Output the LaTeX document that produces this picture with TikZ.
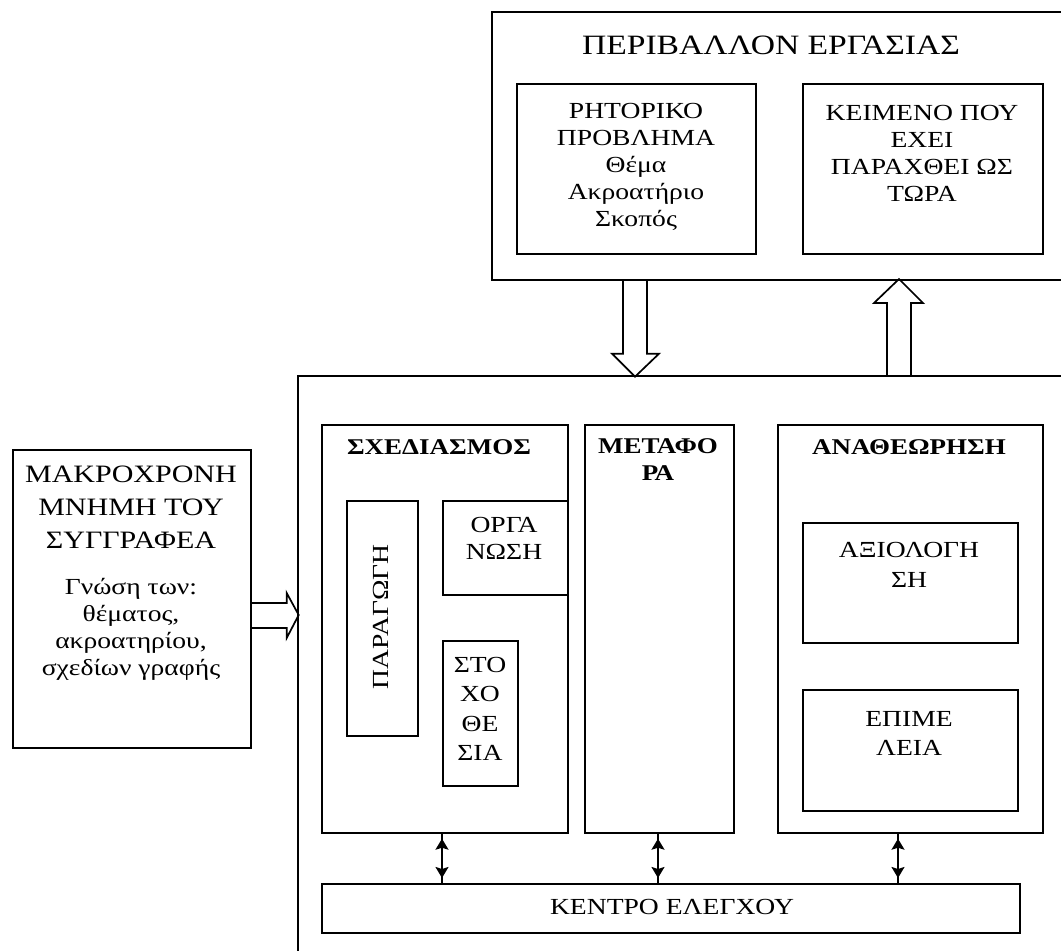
\documentclass[tikz,border=0pt]{standalone}
\usepackage{fontspec}
\setmainfont{Liberation Serif}[FakeStretch=1.2]
\usetikzlibrary{arrows.meta,calc}
\begin{document}
\begin{tikzpicture}[x=1pt,y=-1pt,
  box/.style={draw, line width=1.7pt, inner sep=0pt, anchor=north west},
  txt/.style={align=center, inner sep=0pt, font=\fontsize{23}{27}\selectfont},
  bigtxt/.style={align=center, inner sep=0pt, font=\fontsize{25}{33}\selectfont},
  head/.style={align=center, inner sep=0pt, font=\fontsize{22.5}{27}\selectfont\bfseries},
  hollow/.style={draw, line width=1.7pt, line join=miter},
  conn/.style={line width=1.7pt},
  dtip/.style={line width=1.7pt, {Stealth[length=11pt,width=13pt,inset=2pt]}-{Stealth[length=11pt,width=13pt,inset=2pt]}, shorten <=5pt, shorten >=5pt}]
\useasboundingbox (0,0) rectangle (1061,951);
\clip (0,0) rectangle (1061,951);

% boxes
\node[box, minimum width=590pt, minimum height=268pt] (env) at (491,11) {};
\node[box, minimum width=239pt, minimum height=170pt] (rhet) at (516,83) {};
\node[box, minimum width=240pt, minimum height=170pt] (keim) at (802,83) {};
\node[box, minimum width=800pt, minimum height=640pt] (main) at (297,375) {};
\node[box, minimum width=238pt, minimum height=298pt] (mem) at (12,449) {};
\node[box, minimum width=246pt, minimum height=408pt] (plan) at (321,424) {};
\node[box, minimum width=71pt, minimum height=235pt] (parag) at (346,500) {};
\node[box, minimum width=125pt, minimum height=94pt] (organ) at (442,500) {};
\node[box, minimum width=75pt, minimum height=145pt] (stoch) at (442,640) {};
\node[box, minimum width=149pt, minimum height=408pt] (meta) at (584,424) {};
\node[box, minimum width=265pt, minimum height=408pt] (anath) at (777,424) {};
\node[box, minimum width=215pt, minimum height=120pt] (axiol) at (802,522) {};
\node[box, minimum width=215pt, minimum height=121pt] (epim) at (802,689) {};
\node[box, minimum width=698pt, minimum height=49pt] (kentro) at (321,883) {};

% texts
\node[font=\fontsize{28}{30}\selectfont, inner sep=0pt] (titletxt) at (771,45) {ΠΕΡΙΒΑΛΛΟΝ ΕΡΓΑΣΙΑΣ};
\node[txt] (rhettxt) at (636,167) {ΡΗΤΟΡΙΚΟ\\ΠΡΟΒΛΗΜΑ\\Θέμα\\Ακροατήριο\\Σκοπός};
\node[txt] (keimtxt) at (922,153) {ΚΕΙΜΕΝΟ ΠΟΥ\\ΕΧΕΙ\\ΠΑΡΑΧΘΕΙ ΩΣ\\ΤΩΡΑ};
\node[bigtxt] (memtxt) at (131,507) {ΜΑΚΡΟΧΡΟΝΗ\\ΜΝΗΜΗ ΤΟΥ\\ΣΥΓΓΡΑΦΕΑ};
\node[txt] (memtxt2) at (131,629) {Γνώση των:\\θέματος,\\ακροατηρίου,\\σχεδίων γραφής};
\node[head] (plantxt) at (439,447) {ΣΧΕΔΙΑΣΜΟΣ};
\node[head] (metatxt) at (658,460) {ΜΕΤΑΦΟ\\ΡΑ};
\node[head] (anathtxt) at (909,447) {ΑΝΑΘΕΩΡΗΣΗ};
\node[txt, rotate=90] (paragtxt) at (381,617) {ΠΑΡΑΓΩΓΗ};
\node[txt] (organtxt) at (504,538) {ΟΡΓΑ\\ΝΩΣΗ};
\node[txt, font=\fontsize{23}{29.5}\selectfont] (stochtxt) at (480,709) {ΣΤΟ\\ΧΟ\\ΘΕ\\ΣΙΑ};
\node[txt, font=\fontsize{23}{30}\selectfont] (axioltxt) at (909,565) {ΑΞΙΟΛΟΓΗ\\ΣΗ};
\node[txt, font=\fontsize{23}{29}\selectfont] (epimtxt) at (909,733) {ΕΠΙΜΕ\\ΛΕΙΑ};
\node[txt] (kentrotxt) at (672,907) {ΚΕΝΤΡΟ ΕΛΕΓΧΟΥ};

% hollow arrows
\draw[hollow] ($(env.south west)+(132,0)$) -- ++(0,73) -- ++(-11,0) -- ++(23,23) -- ++(24,-23) -- ++(-12,0) -- ++(0,-73);
\draw[hollow] ($(main.north west)+(590,0)$) -- ++(0,-72) -- ++(-13,0) -- ++(25,-24) -- ++(24,24) -- ++(-12,0) -- ++(0,72);
\draw[hollow] ($(mem.north east)+(0,154)$) -- ++(35,0) -- ++(0,-10) -- ++(12,22) -- ++(-12,23) -- ++(0,-10) -- ++(-35,0);

% double arrows to control centre
\coordinate (d1) at (442,0);
\coordinate (d2) at (658,0);
\coordinate (d3) at (898,0);
\draw[conn] (plan.south -| d1) -- (kentro.north -| d1);
\draw[dtip] (plan.south -| d1) -- (kentro.north -| d1);
\draw[conn] (meta.south -| d2) -- (kentro.north -| d2);
\draw[dtip] (meta.south -| d2) -- (kentro.north -| d2);
\draw[conn] (anath.south -| d3) -- (kentro.north -| d3);
\draw[dtip] (anath.south -| d3) -- (kentro.north -| d3);
\end{tikzpicture}
\end{document}
